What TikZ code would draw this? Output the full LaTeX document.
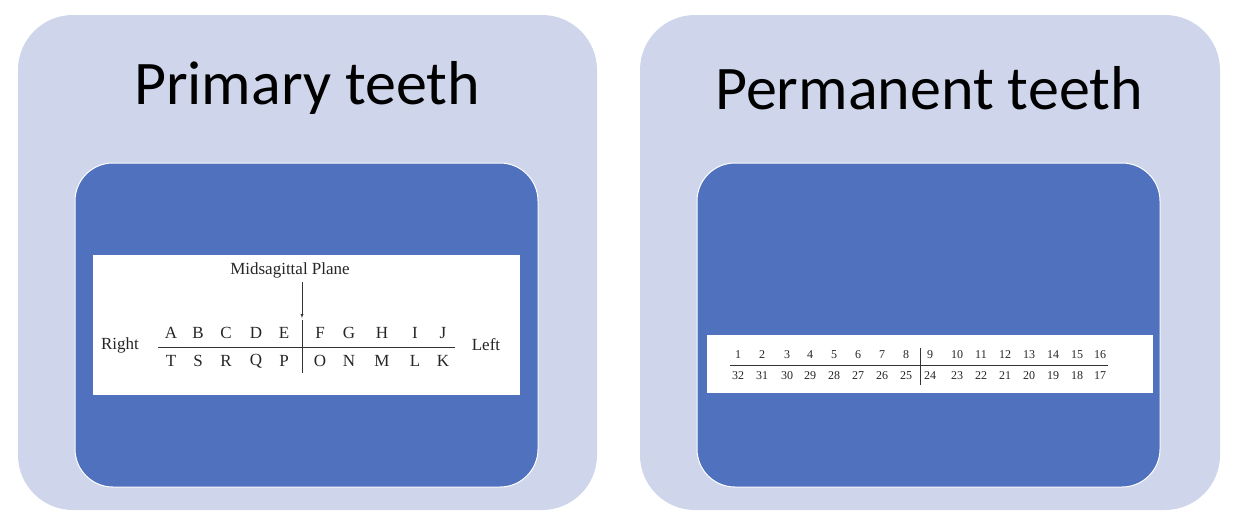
\documentclass[tikz,border=0pt]{standalone}
\usepackage{fontspec}
\setmainfont{Liberation Serif}
\newfontfamily\titlefont{Carlito}
\definecolor{outerc}{RGB}{207,213,234}
\definecolor{innerc}{RGB}{79,113,190}
\begin{document}
\begin{tikzpicture}[x=1pt,y=-1pt,
  outerbox/.style={fill=outerc,rounded corners=55pt},
  innerbox/.style={fill=innerc,draw=white,line width=1pt,rounded corners=38pt},
  ttl/.style={font=\titlefont\fontsize{62}{70}\selectfont},
  lt/.style={font=\fontsize{17}{18}\selectfont,text=black!85,inner sep=0pt},
  nm/.style={font=\fontsize{12}{13}\selectfont,text=black!85,inner sep=0pt}]
\useasboundingbox (0,0) rectangle (1244,528);
\fill[outerc,rounded corners=55pt] (18,15) rectangle (597,510);
\fill[outerc,rounded corners=55pt] (640,15) rectangle (1220,510);
\node[ttl] (t1) at (307,88) {Primary teeth};
\node[ttl] (t2) at (929,88) {Permanent teeth};
\draw[innerbox] (75,163) rectangle (538,487);
\draw[innerbox] (697,163) rectangle (1160,487);
\fill[white] (93,255) rectangle (520,395);
\fill[white] (707,335) rectangle (1153,393);
% primary chart
\node[lt] (mp) at (290,270) {Midsagittal Plane};
\coordinate (ar) at (302,282);
\coordinate (ae) at (302,318);
\draw[-latex,black!80] (ar) -- (ae);
\draw[black!80,line width=0.8pt] (158,347) -- (455,347);
\draw[black!80] (302,320) -- (302,373);
\node[lt] (r) at (120,345) {Right};
\node[lt] (l) at (486,345) {Left};
\foreach \u/\d/\x in {A/T/171,B/S/198,C/R/226,D/Q/256,E/P/284,F/O/320,G/N/349,H/M/382,I/L/415,J/K/443}{
  \node[lt] (u\u) at (\x,333) {\u};
  \node[lt] (d\d) at (\x,361) {\d};
}
% permanent chart
\draw[black!80,line width=0.7pt] (730,365) -- (1108,365);
\draw[black!80] (920,348) -- (920,385);
\foreach \i/\x in {1/738,2/762,3/787,4/810,5/834,6/858,7/882,8/906,9/930,10/957,11/981,12/1005,13/1029,14/1053,15/1077,16/1100}{
  \pgfmathtruncatemacro\j{33-\i}
  \node[nm] (n\i) at (\x,355) {\i};
  \node[nm] (m\j) at (\x,376) {\j};
}
\end{tikzpicture}
\end{document}
